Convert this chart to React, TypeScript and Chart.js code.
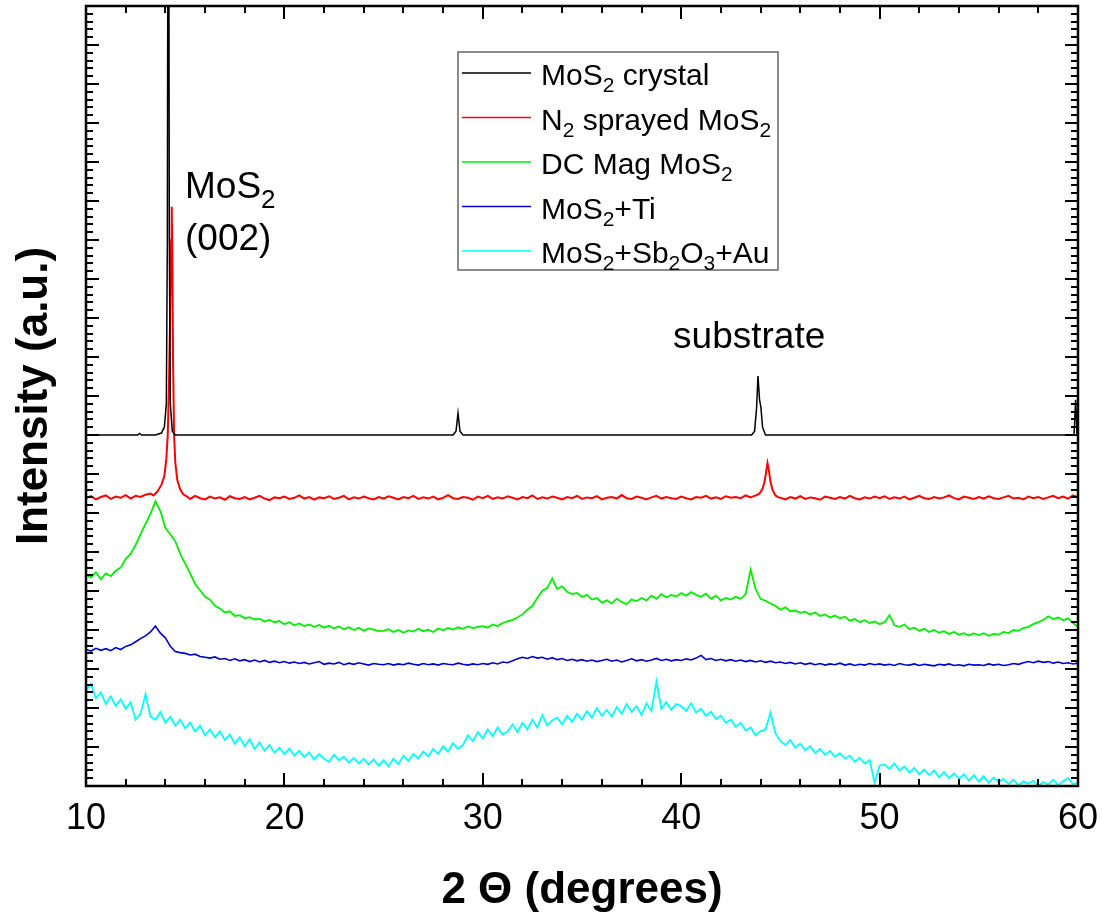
import React, { useEffect, useRef } from "react";
import { Chart, registerables } from "chart.js";

Chart.register(...registerables);

const FONT = "'Liberation Sans', Arial, Helvetica, sans-serif";

// x grid of the noisy scans: 10 .. 60 deg, 0.25 deg step
const X_START = 10;
const X_STEP = 0.25;

const xTickValues = [10, 20, 30, 40, 50, 60];
const xTitle = "2 Θ (degrees)";
const yTitle = "Intensity (a.u.)";

// legend labels ("_" marks a one-character subscript)
const seriesLabels = [
  "MoS_2 crystal",
  "N_2 sprayed MoS_2",
  "DC Mag MoS_2",
  "MoS_2+Ti",
  "MoS_2+Sb_2O_3+Au",
];
const seriesColors = ["#000000", "#ff0000", "#00ee00", "#0000cc", "#00ffff"];

// MoS2 crystal (smooth trace, explicit points)
const blackX = [10, 12.6, 12.7, 12.8, 13.5, 13.8, 13.95, 14.05, 14.1, 14.15, 14.2, 14.25, 14.35, 14.5,
  28.5, 28.65, 28.75, 28.85, 29.0, 43.55, 43.7, 43.8, 43.87, 43.95, 44.02, 44.1, 44.25, 59.8, 59.88, 59.95, 60];
const blackY = [9.0, 9.0, 9.04, 9.0, 9.0, 9.05, 9.2, 9.8, 14.0, 30.0, 14.0, 9.8, 9.1, 9.0,
  9.0, 9.1, 9.56, 9.1, 9.0, 9.0, 9.1, 9.7, 10.51, 9.9, 9.7, 9.2, 9.0, 9.0, 9.9, 9.0, 9.0];

// N2 sprayed MoS2: background on the grid + two peaks
const redBase = [
  7.38, 7.43, 7.35, 7.41, 7.45, 7.36, 7.42, 7.39, 7.46, 7.37, 7.44, 7.41, 7.47, 7.50, 7.58, 7.70, 7.95, 9.0, 8.2, 7.6,
  7.40, 7.36, 7.44, 7.38, 7.35, 7.42, 7.37, 7.40, 7.34, 7.43, 7.38, 7.36, 7.41, 7.35, 7.39, 7.44, 7.37, 7.33, 7.40, 7.38,
  7.42, 7.36, 7.39, 7.45, 7.37, 7.41, 7.34, 7.40, 7.38, 7.43, 7.36, 7.39, 7.44, 7.35, 7.40, 7.37, 7.42, 7.38, 7.35, 7.41,
  7.37, 7.43, 7.39, 7.35, 7.41, 7.38, 7.44, 7.36, 7.40, 7.37, 7.42, 7.35, 7.39, 7.46, 7.38, 7.36, 7.41, 7.39, 7.34, 7.42,
  7.38, 7.44, 7.36, 7.40, 7.37, 7.43, 7.39, 7.35, 7.41, 7.38, 7.45, 7.36, 7.40, 7.37, 7.42, 7.39, 7.35, 7.41, 7.38, 7.44,
  7.36, 7.40, 7.38, 7.43, 7.35, 7.39, 7.41, 7.37, 7.46, 7.38, 7.36, 7.42, 7.39, 7.35, 7.40, 7.44, 7.37, 7.41, 7.38, 7.36,
  7.42, 7.38, 7.35, 7.41, 7.39, 7.44, 7.37, 7.40, 7.36, 7.43, 7.39, 7.41, 7.38, 7.45, 7.40, 7.48, 7.6, 8.1, 7.6, 7.42,
  7.39, 7.35, 7.41, 7.37, 7.43, 7.36, 7.40, 7.38, 7.34, 7.42, 7.39, 7.36, 7.41, 7.37, 7.44, 7.38, 7.35, 7.40, 7.37, 7.42,
  7.38, 7.43, 7.36, 7.40, 7.37, 7.42, 7.35, 7.39, 7.44, 7.38, 7.36, 7.41, 7.37, 7.40, 7.45, 7.38, 7.35, 7.42, 7.39, 7.36,
  7.41, 7.37, 7.43, 7.38, 7.36, 7.40, 7.44, 7.37, 7.39, 7.35, 7.42, 7.38, 7.41, 7.36, 7.40, 7.44, 7.38, 7.42, 7.37, 7.45,
  7.40,
];
const redPeak1X = [13.4, 13.6, 13.8, 13.95, 14.05, 14.12, 14.18, 14.24, 14.29, 14.32, 14.35, 14.39, 14.44, 14.5, 14.6, 14.75, 14.9, 15.1];
const redPeak1Y = [7.45, 7.55, 7.72, 7.95, 8.4, 9.0, 10.2, 12.0, 14.0, 14.85, 13.6, 10.8, 9.0, 8.3, 7.85, 7.6, 7.48, 7.42];
const redPeak2X = [43.6, 43.8, 43.95, 44.1, 44.2, 44.28, 44.35, 44.42, 44.5, 44.6, 44.75, 44.9];
const redPeak2Y = [7.42, 7.46, 7.5, 7.62, 7.8, 8.05, 8.28, 8.1, 7.8, 7.6, 7.45, 7.40];

// DC Mag MoS2
const greenY = [
  5.42, 5.35, 5.48, 5.30, 5.45, 5.38, 5.52, 5.60, 5.82, 5.95, 6.18, 6.45, 6.72, 6.98, 7.30, 7.05, 6.62, 6.45, 6.28, 5.95,
  5.70, 5.45, 5.18, 5.02, 4.85, 4.78, 4.62, 4.55, 4.45, 4.48, 4.36, 4.38, 4.30, 4.33, 4.27, 4.29, 4.22, 4.26, 4.20, 4.23,
  4.15, 4.20, 4.12, 4.17, 4.10, 4.14, 4.08, 4.13, 4.06, 4.11, 4.04, 4.09, 4.02, 4.07, 4.00, 4.06, 3.98, 4.04, 4.01, 3.97,
  3.98, 4.02, 3.95, 4.00, 3.93, 3.99, 3.96, 4.03, 3.97, 4.01, 3.95, 4.04, 3.99, 4.05, 4.01, 4.07, 4.03, 4.09, 4.05, 4.08,
  4.10, 4.06, 4.14, 4.10, 4.18, 4.22, 4.26, 4.32, 4.40, 4.52, 4.62, 4.82, 5.00, 5.08, 5.32, 5.05, 5.12, 4.98, 4.92, 4.95,
  4.85, 4.90, 4.78, 4.82, 4.70, 4.76, 4.68, 4.80, 4.72, 4.66, 4.78, 4.74, 4.82, 4.76, 4.88, 4.80, 4.92, 4.84, 4.90, 4.86,
  4.95, 4.88, 4.97, 4.90, 4.85, 4.93, 4.80, 4.88, 4.76, 4.82, 4.78, 4.85, 4.80, 4.92, 5.55, 5.05, 4.80, 4.75, 4.68, 4.62,
  4.52, 4.58, 4.48, 4.50, 4.44, 4.47, 4.40, 4.45, 4.36, 4.40, 4.32, 4.37, 4.30, 4.34, 4.24, 4.28, 4.20, 4.25, 4.18, 4.22,
  4.15, 4.20, 4.38, 4.12, 4.08, 4.14, 4.02, 4.06, 3.98, 4.03, 3.95, 4.00, 3.93, 3.97, 3.90, 3.95, 3.88, 3.92, 3.86, 3.91,
  3.87, 3.92, 3.85, 3.90, 3.88, 3.95, 3.92, 4.00, 3.98, 4.05, 4.08, 4.15, 4.20, 4.26, 4.35, 4.28, 4.32, 4.25, 4.30, 4.18,
  4.08,
];

// MoS2 + Ti
const blueY = [
  3.50, 3.46, 3.53, 3.48, 3.52, 3.47, 3.55, 3.50, 3.58, 3.62, 3.70, 3.78, 3.85, 3.95, 4.10, 3.92, 3.80, 3.58, 3.45, 3.42,
  3.40, 3.36, 3.38, 3.32, 3.30, 3.28, 3.31, 3.25, 3.27, 3.22, 3.26, 3.21, 3.24, 3.19, 3.23, 3.18, 3.22, 3.17, 3.20, 3.16,
  3.19, 3.15, 3.18, 3.14, 3.17, 3.13, 3.16, 3.19, 3.12, 3.15, 3.13, 3.17, 3.11, 3.15, 3.12, 3.16, 3.13, 3.10, 3.14, 3.12,
  3.11, 3.14, 3.10, 3.13, 3.11, 3.15, 3.12, 3.10, 3.14, 3.11, 3.13, 3.10, 3.14, 3.12, 3.11, 3.15, 3.12, 3.10, 3.13, 3.11,
  3.14, 3.12, 3.16, 3.13, 3.18, 3.16, 3.21, 3.26, 3.30, 3.27, 3.32, 3.28, 3.30, 3.25, 3.29, 3.24, 3.27, 3.22, 3.25, 3.21,
  3.24, 3.20, 3.23, 3.19, 3.22, 3.25, 3.20, 3.23, 3.18, 3.22, 3.26, 3.21, 3.24, 3.20, 3.23, 3.27, 3.22, 3.25, 3.21, 3.24,
  3.22, 3.26, 3.23, 3.28, 3.35, 3.24, 3.27, 3.22, 3.25, 3.21, 3.24, 3.20, 3.23, 3.19, 3.22, 3.18, 3.21, 3.17, 3.20, 3.16,
  3.18, 3.14, 3.17, 3.13, 3.16, 3.12, 3.15, 3.11, 3.14, 3.10, 3.13, 3.11, 3.15, 3.10, 3.13, 3.09, 3.12, 3.10, 3.14, 3.11,
  3.13, 3.10, 3.12, 3.09, 3.14, 3.11, 3.10, 3.13, 3.09, 3.12, 3.10, 3.08, 3.12, 3.10, 3.13, 3.09, 3.11, 3.08, 3.12, 3.10,
  3.11, 3.09, 3.13, 3.10, 3.12, 3.09, 3.11, 3.14, 3.12, 3.16, 3.19, 3.16, 3.20, 3.17, 3.19, 3.15, 3.18, 3.14, 3.16, 3.13,
  3.15,
];

// MoS2 + Sb2O3 + Au
const cyanY = [
  2.45, 2.62, 2.25, 2.40, 2.10, 2.30, 2.05, 2.22, 1.98, 2.15, 1.70, 1.85, 2.35, 1.78, 1.70, 1.90, 1.62, 1.78, 1.55, 1.70,
  1.48, 1.62, 1.40, 1.55, 1.30, 1.45, 1.25, 1.40, 1.18, 1.32, 1.08, 1.25, 1.02, 1.20, 0.95, 1.12, 0.90, 1.05, 0.85, 0.98,
  0.82, 0.96, 0.78, 0.90, 0.74, 0.86, 0.68, 0.82, 0.70, 0.62, 0.80, 0.66, 0.75, 0.60, 0.72, 0.58, 0.70, 0.55, 0.68, 0.52,
  0.66, 0.50, 0.70, 0.56, 0.78, 0.64, 0.82, 0.70, 0.88, 0.76, 0.95, 0.82, 1.02, 0.88, 1.10, 0.95, 1.05, 1.30, 1.15, 1.38,
  1.22, 1.45, 1.28, 1.50, 1.32, 1.40, 1.58, 1.38, 1.62, 1.45, 1.70, 1.50, 1.82, 1.55, 1.68, 1.75, 1.58, 1.80, 1.65, 1.85,
  1.70, 1.92, 1.75, 2.00, 1.80, 1.95, 1.78, 2.02, 1.85, 2.10, 1.90, 2.05, 1.82, 2.12, 1.92, 2.68, 1.98, 2.15, 1.95, 2.10,
  2.05, 1.92, 2.12, 1.88, 1.98, 1.80, 1.90, 1.72, 1.80, 1.62, 1.70, 1.52, 1.62, 1.42, 1.50, 1.30, 1.40, 1.45, 1.88, 1.35,
  1.15, 1.05, 1.18, 0.98, 1.08, 0.92, 1.02, 0.85, 0.95, 0.80, 0.90, 0.75, 0.84, 0.70, 0.78, 0.62, 0.72, 0.58, 0.66, 0.08,
  0.52, 0.55, 0.44, 0.58, 0.40, 0.50, 0.35, 0.46, 0.30, 0.42, 0.28, 0.40, 0.22, 0.36, 0.20, 0.32, 0.18, 0.30, 0.14, 0.28,
  0.12, 0.25, 0.08, 0.22, 0.10, 0.18, 0.05, 0.16, 0.02, 0.12, 0.06, 0.14, 0.00, 0.10, 0.04, 0.16, 0.02, 0.12, 0.20, 0.05,
  0.08,
];

// text annotations, anchored in data coordinates
const annotationTexts = ["MoS_2", "(002)", "substrate"];
const annotationX = [14.99, 14.99, 39.59];
const annotationY = [15.08, 13.74, 11.23];

type Pt = { x: number; y: number };

function gridPoints(values: number[]): Pt[] {
  return values.map((v, i) => ({ x: X_START + i * X_STEP, y: v }));
}
function pairPoints(xs: number[], ys: number[]): Pt[] {
  return xs.map((x, i) => ({ x, y: ys[i] }));
}
function withPeaks(base: Pt[], peaks: Pt[][]): Pt[] {
  const kept = base.filter(
    (p) => !peaks.some((pk) => p.x >= pk[0].x && p.x <= pk[pk.length - 1].x)
  );
  return kept.concat(...peaks).sort((a, b) => a.x - b.x);
}

function drawRich(
  ctx: CanvasRenderingContext2D,
  markup: string,
  x: number,
  y: number,
  size: number,
  subSize: number,
  subDrop: number
) {
  let cx = x;
  let i = 0;
  ctx.textBaseline = "alphabetic";
  ctx.textAlign = "left";
  while (i < markup.length) {
    if (markup[i] === "_" && i + 1 < markup.length) {
      ctx.font = `${subSize}px ${FONT}`;
      ctx.fillText(markup[i + 1], cx, y + subDrop);
      cx += ctx.measureText(markup[i + 1]).width;
      i += 2;
    } else {
      let j = i;
      while (j < markup.length && markup[j] !== "_") j++;
      const run = markup.slice(i, j);
      ctx.font = `${size}px ${FONT}`;
      ctx.fillText(run, cx, y);
      cx += ctx.measureText(run).width;
      i = j;
    }
  }
}

const framePlugin = {
  id: "frameTicks",
  afterDatasetsDraw(chart: any) {
    const { ctx, chartArea: a, scales } = chart;
    const xs = scales.x;
    const ys = scales.y;
    ctx.save();
    ctx.strokeStyle = "#000";
    // ticks
    ctx.lineWidth = 2;
    const majorLen = 13;
    const minorLen = 7;
    for (let v = 10; v <= 60 + 1e-9; v += 2) {
      const px = Math.round(xs.getPixelForValue(v));
      const len = Math.abs(v % 10) < 1e-9 ? majorLen : minorLen;
      ctx.beginPath();
      ctx.moveTo(px, a.bottom);
      ctx.lineTo(px, a.bottom - len);
      ctx.moveTo(px, a.top);
      ctx.lineTo(px, a.top + len);
      ctx.stroke();
    }
    for (let k = 0; k <= 100; k++) {
      const v = k * 0.2;
      const py = Math.round(ys.getPixelForValue(v));
      const len = k % 5 === 0 ? majorLen : minorLen;
      ctx.beginPath();
      ctx.moveTo(a.left, py);
      ctx.lineTo(a.left + len, py);
      ctx.moveTo(a.right, py);
      ctx.lineTo(a.right - len, py);
      ctx.stroke();
    }
    // frame
    ctx.lineWidth = 2.5;
    ctx.strokeRect(a.left, a.top, a.right - a.left, a.bottom - a.top);

    // annotations
    ctx.fillStyle = "#000";
    annotationTexts.forEach((t, i) => {
      const px = xs.getPixelForValue(annotationX[i]);
      const py = ys.getPixelForValue(annotationY[i]);
      drawRich(ctx, t, px, py, 37, 26, 10);
    });

    // legend
    const lx = a.left + 372;
    const ly = a.top + 46;
    const lw = 320;
    const lh = 218;
    ctx.fillStyle = "#fff";
    ctx.fillRect(lx, ly, lw, lh);
    ctx.strokeStyle = "#666";
    ctx.lineWidth = 1.5;
    ctx.strokeRect(lx, ly, lw, lh);
    seriesLabels.forEach((lab, i) => {
      const cy = ly + 21 + i * 44.5;
      ctx.strokeStyle = seriesColors[i];
      ctx.lineWidth = 1.5;
      ctx.beginPath();
      ctx.moveTo(lx + 4, cy);
      ctx.lineTo(lx + 73, cy);
      ctx.stroke();
      ctx.fillStyle = "#000";
      drawRich(ctx, lab, lx + 83, cy + 12, 30, 21, 7);
    });
    ctx.restore();
  },
};

export default function App() {
  const ref = useRef<HTMLCanvasElement | null>(null);

  useEffect(() => {
    document.body.style.margin = "0";
    document.body.style.overflow = "hidden";
    if (!ref.current) return;

    const black = pairPoints(blackX, blackY);
    const red = withPeaks(gridPoints(redBase), [
      pairPoints(redPeak1X, redPeak1Y),
      pairPoints(redPeak2X, redPeak2Y),
    ]);
    const green = gridPoints(greenY);
    const blue = gridPoints(blueY);
    const cyan = gridPoints(cyanY);
    const plain = (s: string) => s.replace(/_(.)/g, "$1");

    const chart = new Chart(ref.current, {
      type: "line",
      data: {
        datasets: [
          { label: plain(seriesLabels[0]), data: black, borderColor: seriesColors[0], borderWidth: 1.5 },
          { label: plain(seriesLabels[1]), data: red, borderColor: seriesColors[1], borderWidth: 2 },
          { label: plain(seriesLabels[2]), data: green, borderColor: seriesColors[2], borderWidth: 1.8 },
          { label: plain(seriesLabels[3]), data: blue, borderColor: seriesColors[3], borderWidth: 1.6 },
          { label: plain(seriesLabels[4]), data: cyan, borderColor: seriesColors[4], borderWidth: 1.8 },
        ],
      },
      options: {
        responsive: false,
        animation: false,
        parsing: false,
        normalized: true,
        layout: { padding: { top: 6, right: 25, left: 0, bottom: 0 } },
        elements: { point: { radius: 0 }, line: { tension: 0 } },
        plugins: { legend: { display: false }, tooltip: { enabled: false } },
        scales: {
          x: {
            type: "linear",
            min: 10,
            max: 60,
            grid: { display: false, drawTicks: false },
            border: { display: false },
            afterBuildTicks: (s: any) => {
              s.ticks = xTickValues.map((v) => ({ value: v }));
            },
            ticks: {
              color: "#000",
              font: { family: FONT, size: 36, lineHeight: 1 },
              padding: 15,
              maxRotation: 0,
              autoSkip: false,
            },
            title: {
              display: true,
              text: xTitle,
              color: "#000",
              font: { family: FONT, size: 44, weight: "bold", lineHeight: 1 },
              padding: { top: 0, bottom: 0 },
            },
            afterFit: (s: any) => {
              s.height = 127;
              s.paddingLeft = 0;
              s.paddingRight = 0;
            },
          },
          y: {
            type: "linear",
            min: 0,
            max: 20,
            grid: { display: false, drawTicks: false },
            border: { display: false },
            ticks: { display: false, stepSize: 1 },
            title: {
              display: true,
              text: yTitle,
              color: "#000",
              font: { family: FONT, size: 44, weight: "bold", lineHeight: 1 },
              padding: { top: 13, bottom: 0 },
            },
            afterFit: (s: any) => {
              s.width = 86;
              s.paddingTop = 0;
              s.paddingBottom = 0;
            },
          },
        },
      } as any,
      plugins: [framePlugin],
    });
    return () => chart.destroy();
  }, []);

  return (
    <div style={{ position: "fixed", left: 0, top: 0, width: 1103, height: 913 }}>
      <canvas ref={ref} width={1103} height={913} style={{ display: "block" }} />
    </div>
  );
}
